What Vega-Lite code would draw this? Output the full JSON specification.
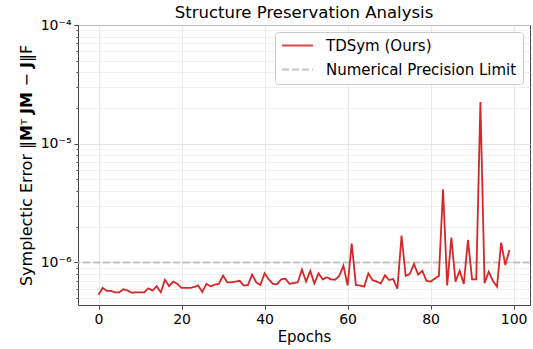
{
  "$schema": "https://vega.github.io/schema/vega-lite/v6.json",
  "width": 452,
  "height": 280,
  "autosize": {"type": "none"},
  "padding": {"left": 78, "top": 25, "right": 3, "bottom": 44},
  "config": {
    "font": "DejaVu Sans",
    "view": {"stroke": "#444", "strokeWidth": 1},
    "legend": {
      "orient": "top-right",
      "offset": 7,
      "symbolType": "stroke",
      "symbolSize": 961,
      "symbolStrokeWidth": 2,
      "clipHeight": 15,
      "labelFontSize": 15,
      "labelFont": "DejaVu Sans",
      "labelColor": "#000",
      "labelLimit": 400,
      "fillColor": "white",
      "strokeColor": "#cccccc",
      "cornerRadius": 3,
      "padding": 6,
      "rowPadding": 8,
      "labelOffset": 12
    }
  },
  "title": {"text": "Structure Preservation Analysis", "fontSize": 16.5, "fontWeight": "normal", "font": "DejaVu Sans", "color": "#000", "offset": -3, "frame": "group"},
  "datasets": {
    "err": [
      {"epoch": 0, "value": 5.35e-7, "series": "TDSym (Ours)"},
      {"epoch": 1, "value": 6.1e-7, "series": "TDSym (Ours)"},
      {"epoch": 2, "value": 5.75e-7, "series": "TDSym (Ours)"},
      {"epoch": 3, "value": 5.75e-7, "series": "TDSym (Ours)"},
      {"epoch": 4, "value": 5.6e-7, "series": "TDSym (Ours)"},
      {"epoch": 5, "value": 5.6e-7, "series": "TDSym (Ours)"},
      {"epoch": 6, "value": 5.95e-7, "series": "TDSym (Ours)"},
      {"epoch": 7, "value": 5.8e-7, "series": "TDSym (Ours)"},
      {"epoch": 8, "value": 5.55e-7, "series": "TDSym (Ours)"},
      {"epoch": 9, "value": 5.6e-7, "series": "TDSym (Ours)"},
      {"epoch": 10, "value": 5.6e-7, "series": "TDSym (Ours)"},
      {"epoch": 11, "value": 5.6e-7, "series": "TDSym (Ours)"},
      {"epoch": 12, "value": 6.05e-7, "series": "TDSym (Ours)"},
      {"epoch": 13, "value": 5.8e-7, "series": "TDSym (Ours)"},
      {"epoch": 14, "value": 6.3e-7, "series": "TDSym (Ours)"},
      {"epoch": 15, "value": 5.6e-7, "series": "TDSym (Ours)"},
      {"epoch": 16, "value": 7.15e-7, "series": "TDSym (Ours)"},
      {"epoch": 17, "value": 6.3e-7, "series": "TDSym (Ours)"},
      {"epoch": 18, "value": 6.9e-7, "series": "TDSym (Ours)"},
      {"epoch": 19, "value": 6.6e-7, "series": "TDSym (Ours)"},
      {"epoch": 20, "value": 6.1e-7, "series": "TDSym (Ours)"},
      {"epoch": 21, "value": 6.1e-7, "series": "TDSym (Ours)"},
      {"epoch": 22, "value": 6.1e-7, "series": "TDSym (Ours)"},
      {"epoch": 23, "value": 6.2e-7, "series": "TDSym (Ours)"},
      {"epoch": 24, "value": 6.4e-7, "series": "TDSym (Ours)"},
      {"epoch": 25, "value": 5.65e-7, "series": "TDSym (Ours)"},
      {"epoch": 26, "value": 6.6e-7, "series": "TDSym (Ours)"},
      {"epoch": 27, "value": 6.3e-7, "series": "TDSym (Ours)"},
      {"epoch": 28, "value": 6.5e-7, "series": "TDSym (Ours)"},
      {"epoch": 29, "value": 6.6e-7, "series": "TDSym (Ours)"},
      {"epoch": 30, "value": 7.75e-7, "series": "TDSym (Ours)"},
      {"epoch": 31, "value": 6.8e-7, "series": "TDSym (Ours)"},
      {"epoch": 32, "value": 6.8e-7, "series": "TDSym (Ours)"},
      {"epoch": 33, "value": 6.9e-7, "series": "TDSym (Ours)"},
      {"epoch": 34, "value": 7.0e-7, "series": "TDSym (Ours)"},
      {"epoch": 35, "value": 6.4e-7, "series": "TDSym (Ours)"},
      {"epoch": 36, "value": 6.45e-7, "series": "TDSym (Ours)"},
      {"epoch": 37, "value": 7.9e-7, "series": "TDSym (Ours)"},
      {"epoch": 38, "value": 6.8e-7, "series": "TDSym (Ours)"},
      {"epoch": 39, "value": 6.45e-7, "series": "TDSym (Ours)"},
      {"epoch": 40, "value": 8.1e-7, "series": "TDSym (Ours)"},
      {"epoch": 41, "value": 7.2e-7, "series": "TDSym (Ours)"},
      {"epoch": 42, "value": 6.6e-7, "series": "TDSym (Ours)"},
      {"epoch": 43, "value": 6.55e-7, "series": "TDSym (Ours)"},
      {"epoch": 44, "value": 7.2e-7, "series": "TDSym (Ours)"},
      {"epoch": 45, "value": 7.3e-7, "series": "TDSym (Ours)"},
      {"epoch": 46, "value": 6.6e-7, "series": "TDSym (Ours)"},
      {"epoch": 47, "value": 6.7e-7, "series": "TDSym (Ours)"},
      {"epoch": 48, "value": 6.8e-7, "series": "TDSym (Ours)"},
      {"epoch": 49, "value": 8.7e-7, "series": "TDSym (Ours)"},
      {"epoch": 50, "value": 6.9e-7, "series": "TDSym (Ours)"},
      {"epoch": 51, "value": 8.5e-7, "series": "TDSym (Ours)"},
      {"epoch": 52, "value": 6.65e-7, "series": "TDSym (Ours)"},
      {"epoch": 53, "value": 8.1e-7, "series": "TDSym (Ours)"},
      {"epoch": 54, "value": 7.2e-7, "series": "TDSym (Ours)"},
      {"epoch": 55, "value": 7.5e-7, "series": "TDSym (Ours)"},
      {"epoch": 56, "value": 7.2e-7, "series": "TDSym (Ours)"},
      {"epoch": 57, "value": 7.15e-7, "series": "TDSym (Ours)"},
      {"epoch": 58, "value": 7.7e-7, "series": "TDSym (Ours)"},
      {"epoch": 59, "value": 9.4e-7, "series": "TDSym (Ours)"},
      {"epoch": 60, "value": 6.4e-7, "series": "TDSym (Ours)"},
      {"epoch": 61, "value": 1.44e-6, "series": "TDSym (Ours)"},
      {"epoch": 62, "value": 6.45e-7, "series": "TDSym (Ours)"},
      {"epoch": 63, "value": 6.4e-7, "series": "TDSym (Ours)"},
      {"epoch": 64, "value": 6.25e-7, "series": "TDSym (Ours)"},
      {"epoch": 65, "value": 8.1e-7, "series": "TDSym (Ours)"},
      {"epoch": 66, "value": 7.1e-7, "series": "TDSym (Ours)"},
      {"epoch": 67, "value": 6.9e-7, "series": "TDSym (Ours)"},
      {"epoch": 68, "value": 6.65e-7, "series": "TDSym (Ours)"},
      {"epoch": 69, "value": 7.8e-7, "series": "TDSym (Ours)"},
      {"epoch": 70, "value": 7.1e-7, "series": "TDSym (Ours)"},
      {"epoch": 71, "value": 7.25e-7, "series": "TDSym (Ours)"},
      {"epoch": 72, "value": 6.0e-7, "series": "TDSym (Ours)"},
      {"epoch": 73, "value": 1.68e-6, "series": "TDSym (Ours)"},
      {"epoch": 74, "value": 7.7e-7, "series": "TDSym (Ours)"},
      {"epoch": 75, "value": 8.0e-7, "series": "TDSym (Ours)"},
      {"epoch": 76, "value": 9.7e-7, "series": "TDSym (Ours)"},
      {"epoch": 77, "value": 7.9e-7, "series": "TDSym (Ours)"},
      {"epoch": 78, "value": 8.5e-7, "series": "TDSym (Ours)"},
      {"epoch": 79, "value": 7.0e-7, "series": "TDSym (Ours)"},
      {"epoch": 80, "value": 6.9e-7, "series": "TDSym (Ours)"},
      {"epoch": 81, "value": 7.3e-7, "series": "TDSym (Ours)"},
      {"epoch": 82, "value": 7.7e-7, "series": "TDSym (Ours)"},
      {"epoch": 83, "value": 4.13e-6, "series": "TDSym (Ours)"},
      {"epoch": 84, "value": 6.4e-7, "series": "TDSym (Ours)"},
      {"epoch": 85, "value": 1.62e-6, "series": "TDSym (Ours)"},
      {"epoch": 86, "value": 6.9e-7, "series": "TDSym (Ours)"},
      {"epoch": 87, "value": 8.5e-7, "series": "TDSym (Ours)"},
      {"epoch": 88, "value": 6.6e-7, "series": "TDSym (Ours)"},
      {"epoch": 89, "value": 1.55e-6, "series": "TDSym (Ours)"},
      {"epoch": 90, "value": 7.2e-7, "series": "TDSym (Ours)"},
      {"epoch": 91, "value": 7.2e-7, "series": "TDSym (Ours)"},
      {"epoch": 92, "value": 2.24e-5, "series": "TDSym (Ours)"},
      {"epoch": 93, "value": 6.7e-7, "series": "TDSym (Ours)"},
      {"epoch": 94, "value": 8.35e-7, "series": "TDSym (Ours)"},
      {"epoch": 95, "value": 7.0e-7, "series": "TDSym (Ours)"},
      {"epoch": 96, "value": 6.25e-7, "series": "TDSym (Ours)"},
      {"epoch": 97, "value": 1.47e-6, "series": "TDSym (Ours)"},
      {"epoch": 98, "value": 9.5e-7, "series": "TDSym (Ours)"},
      {"epoch": 99, "value": 1.27e-6, "series": "TDSym (Ours)"}
    ],
    "limit": [
      {"value": 1e-6, "series": "Numerical Precision Limit"}
    ]
  },
  "layer": [
    {
      "data": {"name": "limit"},
      "mark": {"type": "rule", "strokeWidth": 2, "opacity": 0.85},
      "encoding": {
        "y": {"field": "value", "type": "quantitative"},
        "color": {"field": "series", "type": "nominal"},
        "strokeDash": {"field": "series", "type": "nominal"}
      }
    },
    {
      "data": {"name": "err"},
      "mark": {"type": "line", "strokeWidth": 1.8, "clip": true},
      "encoding": {
        "x": {
          "field": "epoch",
          "type": "quantitative",
          "scale": {"domain": [-4.95, 103.95], "nice": false, "zero": false},
          "axis": {
            "values": [0, 20, 40, 60, 80, 100],
            "domain": false,
            "grid": true,
            "gridColor": "#e2e2e2",
            "gridWidth": 0.8,
            "tickColor": "#444",
            "tickSize": 4,
            "labelFontSize": 14,
            "labelColor": "#000",
            "labelPadding": 3,
            "titleFontSize": 15,
            "titleFontWeight": "normal",
            "titleColor": "#000",
            "titlePadding": 3
          },
          "title": "Epochs"
        },
        "y": {
          "field": "value",
          "type": "quantitative",
          "scale": {"type": "log", "domain": [4.38e-7, 1e-4], "nice": false},
          "axis": {
            "values": [5e-7, 6e-7, 7e-7, 8e-7, 9e-7, 1e-6, 2e-6, 3e-6, 4e-6, 5e-6, 6e-6, 7e-6, 8e-6, 9e-6, 1e-5, 2e-5, 3e-5, 4e-5, 5e-5, 6e-5, 7e-5, 8e-5, 9e-5, 1e-4],
            "labelExpr": "abs(log(datum.value)/LN10 - round(log(datum.value)/LN10)) < 0.001 ? (round(log(datum.value)/LN10) == -4 ? '10⁻⁴' : round(log(datum.value)/LN10) == -5 ? '10⁻⁵' : '10⁻⁶') : ''",
            "domain": false,
            "grid": true,
            "gridColor": {"condition": {"test": "abs(log(datum.value)/LN10 - round(log(datum.value)/LN10)) < 0.001", "value": "#dedede"}, "value": "#ececec"},
            "gridWidth": 0.8,
            "tickColor": "#444",
            "tickSize": {"condition": {"test": "abs(log(datum.value)/LN10 - round(log(datum.value)/LN10)) < 0.001", "value": 4}, "value": 2},
            "labelFontSize": 14,
            "labelColor": "#000",
            "labelPadding": 3,
            "labelOverlap": false,
            "titleFontSize": 16,
            "titleFontWeight": "normal",
            "titleColor": "#000",
            "titlePadding": 6
          },
          "title": "Symplectic Error ‖𝗠ᵀ 𝗝𝗠 − 𝗝‖F"
        },
        "color": {
          "field": "series",
          "type": "nominal",
          "scale": {"domain": ["TDSym (Ours)", "Numerical Precision Limit"], "range": ["#d62728", "#bbbbbb"]},
          "legend": {"title": null}
        },
        "strokeDash": {
          "field": "series",
          "type": "nominal",
          "scale": {"domain": ["TDSym (Ours)", "Numerical Precision Limit"], "range": [[1, 0], [7, 3]]},
          "legend": {"title": null}
        }
      }
    }
  ]
}
